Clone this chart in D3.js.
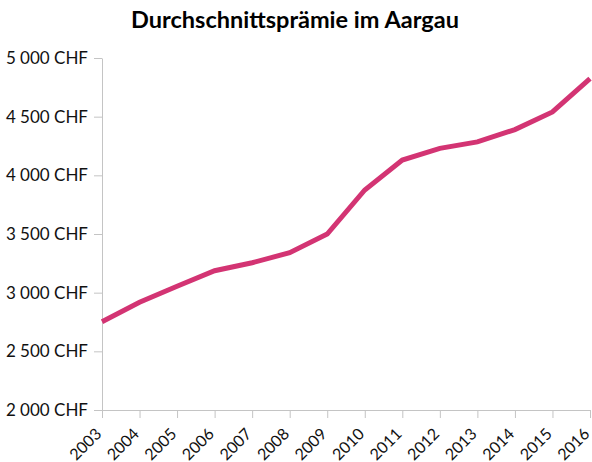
<!DOCTYPE html>
<html>
<head>
<meta charset="utf-8">
<script src="https://cdn.jsdelivr.net/npm/d3@7"></script>
<style>
  body { margin: 0; background: #fff; }
  text { font-family: Lato, sans-serif; }
</style>
</head>
<body>
<div id="chart"></div>
<script>
const years = [2003, 2004, 2005, 2006, 2007, 2008, 2009, 2010, 2011, 2012, 2013, 2014, 2015, 2016];
const premiums = [2752, 2918, 3055, 3187, 3255, 3340, 3500, 3875, 4130, 4230, 4285, 4390, 4540, 4825];
const yTicks = [2000, 2500, 3000, 3500, 4000, 4500, 5000];
const title = "Durchschnittsprämie im Aargau";

const width = 592, height = 462;
const margin = {top: 58, right: 2, bottom: 52, left: 102};

const svg = d3.select("#chart").append("svg")
  .attr("width", width).attr("height", height);

const x = d3.scaleLinear().domain([2003, 2016]).range([margin.left, width - margin.right]);
const y = d3.scaleLinear().domain([2000, 5000]).range([height - margin.bottom, margin.top]);

const fmt = d => d3.format(",")(d).replace(",", " ") + " CHF";

// y axis
const yAxis = svg.append("g")
  .attr("transform", `translate(${margin.left},0)`)
  .call(d3.axisLeft(y).tickValues(yTicks).tickFormat(fmt).tickSize(8).tickSizeOuter(0).tickPadding(6));

// x axis
const xAxis = svg.append("g")
  .attr("transform", `translate(0,${height - margin.bottom})`)
  .call(d3.axisBottom(x).tickValues(years).tickFormat(d3.format("d")).tickSize(8).tickSizeOuter(0));

xAxis.selectAll("text")
  .attr("text-anchor", "end")
  .attr("x", 0)
  .attr("y", 0)
  .attr("dy", null)
  .attr("transform", "translate(0,25) rotate(-45)");

[xAxis, yAxis].forEach(a => {
  a.select(".domain").attr("stroke", "#c4c4c4");
  a.selectAll(".tick line").attr("stroke", "#c4c4c4");
  a.selectAll("text")
    .attr("font-family", "Lato, sans-serif")
    .attr("fill", "#111");
});
yAxis.selectAll("text").attr("font-size", "17px");
xAxis.selectAll("text").attr("font-size", "16px");

const line = d3.line()
  .x((d, i) => x(years[i]))
  .y(d => y(d));

svg.append("path")
  .datum(premiums)
  .attr("d", line)
  .attr("fill", "none")
  .attr("stroke", "#d33473")
  .attr("stroke-width", 5);

svg.append("text")
  .attr("x", 295)
  .attr("y", 28)
  .attr("text-anchor", "middle")
  .attr("font-size", "23.5px")
  .attr("font-weight", "bold")
  .attr("fill", "#000")
  .text(title);
</script>
</body>
</html>
